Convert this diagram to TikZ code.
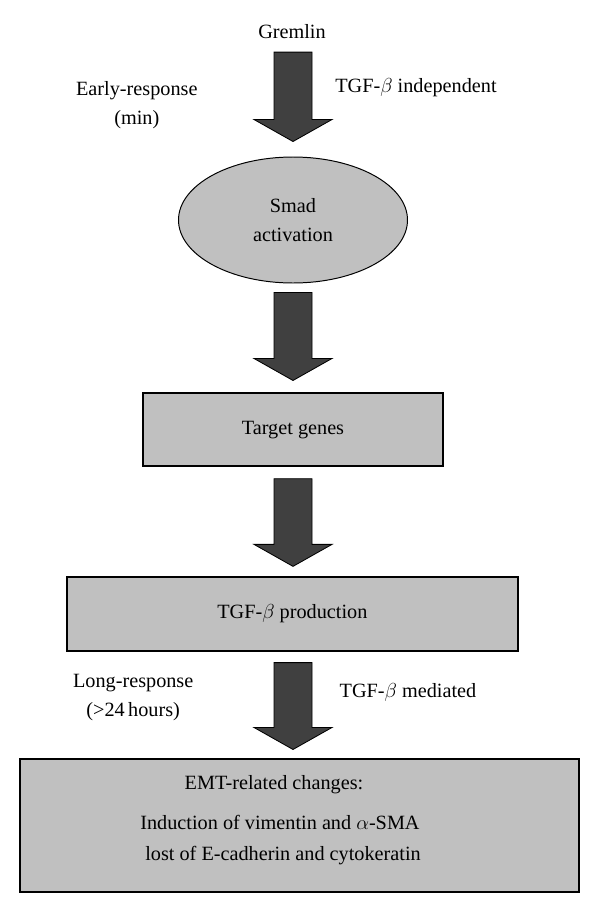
\documentclass[tikz,border=0pt]{standalone}
\usepackage{fontspec}
\setmainfont{Liberation Serif}
\usepackage{xcolor}
\usepackage{tikz}
\usetikzlibrary{shapes.geometric,calc,positioning}
\definecolor{boxgray}{HTML}{C0C0C0}
\definecolor{arrowdark}{HTML}{404040}

% block arrow pointing down, from #1 (top of shaft) to #2 (tip)
\newcommand{\fatarrow}[2]{%
  \draw[fatarr] let \p1=#1, \p2=#2 in
    (\x1-0.475cm,\y1) -- (\x1+0.475cm,\y1) -- (\x1+0.475cm,\y2+0.55cm)
    -- (\x1+0.975cm,\y2+0.55cm) -- (\x1,\y2) -- (\x1-0.975cm,\y2+0.55cm)
    -- (\x1-0.475cm,\y2+0.55cm) -- cycle;}

\begin{document}
\begin{tikzpicture}[
  every node/.style={font=\fontsize{14.4}{20.6}\selectfont},
  stepbox/.style={rectangle, draw=black, fill=boxgray, line width=0.9pt,
                  inner sep=0pt, align=center},
  smadshape/.style={ellipse, draw=black, fill=boxgray, line width=0.7pt,
                    minimum width=5.725cm, minimum height=3.15cm, inner sep=0pt,
                    align=center},
  fatarr/.style={draw=black, fill=arrowdark, line width=0.6pt, line join=miter},
  sidelbl/.style={align=center, inner sep=1pt}
]
\useasboundingbox (0,0) rectangle (15,-22.825);

%--- Main chain ---
\node (gremlin) at (7.3,-0.8) {Gremlin};
\node[smadshape] (smad) at (7.325,-5.5) {Smad\\activation};
\node[stepbox, minimum width=7.5cm, minimum height=1.825cm] (target) at (7.325,-10.74) {Target genes};
\node[stepbox, minimum width=11.275cm, minimum height=1.85cm] (prod) at (7.31,-15.35) {TGF-$\beta$ production};
\node[stepbox, minimum width=13.975cm, minimum height=3.325cm] (emt) at (7.4875,-20.64) {};

%--- EMT text ---
\node (emt1) at (6.85,-19.62) {EMT-related changes:};
\node (emt2) at (7.0,-20.57) {Induction of vimentin and $\alpha$-SMA};
\node (emt3) at (7.075,-21.39) {lost of E-cadherin and cytokeratin};

%--- Side labels ---
\node[sidelbl] (early) at (3.42,-2.62) {Early-response\\(min)};
\node[sidelbl] (indep) at (10.4,-2.2) {TGF-$\beta$ independent};
\node[sidelbl] (long) at (3.33,-17.44) {Long-response\\(\textgreater24\,hours)};
\node[sidelbl] (mediated) at (10.2,-17.3) {TGF-$\beta$ mediated};

%--- Arrows ---
\fatarrow{($(gremlin.south)+(0.025,-0.2)$)}{($(smad.north)+(0,0.375)$)}
\fatarrow{($(smad.south)+(0,-0.225)$)}{($(target.north)+(0,0.3)$)}
\fatarrow{($(target.south)+(0,-0.3)$)}{($(prod.north)+(0,0.25)$)}
\fatarrow{($(prod.south)+(0.015,-0.275)$)}{($(emt.north)+(0,0.225)$)}

\end{tikzpicture}
\end{document}
